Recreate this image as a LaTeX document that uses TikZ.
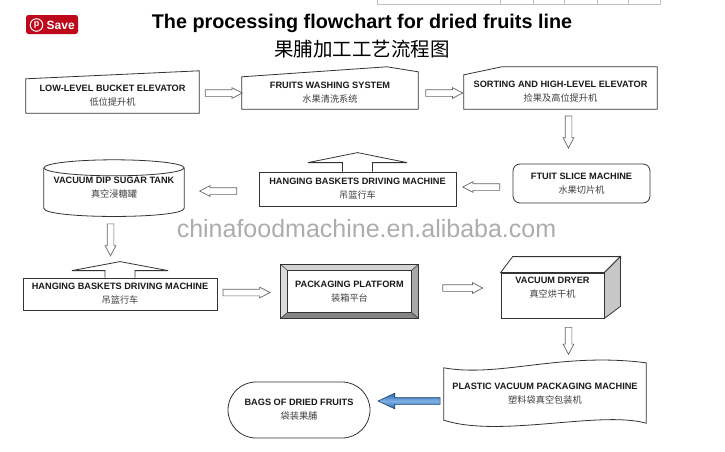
\documentclass[tikz,border=0pt]{standalone}
\usepackage{fontspec}
\setmainfont{Liberation Sans}
\newfontfamily\cjk{Noto Sans CJK SC}
\usepackage{tikz}
\usetikzlibrary{
  calc,
  positioning,
  shapes.arrows, % for the hollow block arrows
  shapes.misc, % for the rounded rectangle
}
\definecolor{pinred}{HTML}{BD081C}
\definecolor{boxline}{HTML}{333333}
\definecolor{hollowline}{HTML}{666666}
\definecolor{bluefill}{HTML}{2B66AD}
\definecolor{bluelight}{HTML}{7DB0E3}
\definecolor{blueedge}{HTML}{1B3F73}
\definecolor{bevellight}{HTML}{D2D2D2}
\definecolor{bevelmid}{HTML}{A8A8A8}
\definecolor{beveldark}{HTML}{858585}
\newcommand{\boxtext}[2]{\textbf{#1}\\{\cjk\color{black!75}#2}}

\begin{document}
\begin{tikzpicture}[x=1pt, y=-1pt,
    plain/.style={align=center, inner sep=1pt, text=black!90,
      font=\fontsize{9.2}{14}\selectfont},
    box/.style={plain, draw=boxline, line width=0.8pt, fill=white},
    edge/.style={draw=boxline, line width=0.8pt},
    hollow/.style={single arrow, draw=hollowline, line width=0.7pt, fill=white,
      inner xsep=0pt, inner ysep=3pt, minimum width=10pt, single arrow head extend=2pt,
      single arrow head indent=0pt, single arrow tip angle=55,
      sloped, allow upside down},
    bluearrow/.style={single arrow, draw=blueedge, line width=0.6pt,
      top color=bluefill, bottom color=bluefill, middle color=bluelight,
      inner xsep=0pt, inner ysep=3pt, minimum width=15pt, single arrow head extend=4.5pt,
      single arrow head indent=0pt, single arrow tip angle=50,
      sloped, allow upside down},
  ]
  \fill [white] (0,0) rectangle (725,451);
  \useasboundingbox (0,0) rectangle (725,451);

  % page header
  \draw [black!25, line width=0.6pt] (377,-2) -- (377,4) -- (660,4) -- (660,-2);
  \foreach \x in {500,533,564,597,628}
    \draw [black!25, line width=0.6pt] (\x,-2) -- (\x,4);
  \node [fill=pinred, rounded corners=2.5pt, minimum width=52pt, minimum height=19pt] (save) at (52,24.5) {};
  \node [circle, draw=white, line width=1pt, inner sep=0pt, minimum size=12.5pt, text=white,
    font=\bfseries\fontsize{9}{9}\selectfont] (pin) at (36.5,25) {p};
  \node [anchor=base west, inner sep=0pt, text=white, font=\bfseries\fontsize{12}{12}\selectfont] (savetext) at (46.5,29.3) {Save};
  \node [anchor=base, inner sep=0pt, font=\bfseries\fontsize{19.8}{22}\selectfont] (title) at (362,28)
    {The processing flowchart for dried fruits line};
  \node [below=7.8pt of title, inner sep=0pt, font=\cjk\fontsize{19.5}{22}\selectfont] (subtitle) {果脯加工工艺流程图};

  % first row
  \node [plain, minimum width=173pt, minimum height=34pt] (low) at (112.5,96)
    {\boxtext{LOW-LEVEL BUCKET ELEVATOR}{低位提升机}};
  \draw [edge] (low.south west) -- (low.north west) -- ([yshift=8pt]low.north east)
    -- (low.south east) -- cycle;
  \node [plain, minimum width=176pt, minimum height=32pt] (wash) at (330,93)
    {\boxtext{FRUITS WASHING SYSTEM}{水果清洗系统}};
  \draw [edge] (wash.south west) -- (wash.north west) -- ([xshift=145pt,yshift=10pt]wash.north west)
    -- ([yshift=5pt]wash.north east) -- (wash.south east) -- cycle;
  \node [plain, minimum width=193pt, minimum height=34pt] (sort) at (560.5,92)
    {\boxtext{SORTING AND HIGH-LEVEL ELEVATOR}{捡果及高位提升机}};
  \draw [edge] (sort.south west) -- (sort.north west) -- ([xshift=38pt,yshift=8pt]sort.north west)
    -- ([yshift=8pt]sort.north east) -- (sort.south east) -- cycle;

  % second row
  \node [box, rounded corners=7pt, minimum width=137pt, minimum height=39pt] (slice) at (581.5,183.5)
    {\boxtext{FTUIT SLICE MACHINE}{水果切片机}};
  \node [box, minimum width=197pt, minimum height=34pt] (hang1) at (357.5,189)
    {\boxtext{HANGING BASKETS DRIVING MACHINE}{吊篮行车}};
  \draw [edge] ([xshift=-15pt]hang1.north) -- ++(0,-9) -- ++(-34.5,0) -- ([yshift=19pt]hang1.north)
    -- ([xshift=49.5pt,yshift=9pt]hang1.north) -- ++(-34.5,0) -- ++(0,9);
  \node [plain, minimum width=140pt, minimum height=40pt] (tank) at (114,188)
    {\boxtext{VACUUM DIP SUGAR TANK}{真空浸糖罐}};
  \draw [edge] (tank.north west) -- (tank.south west) .. controls +(0,11) and +(0,11) .. (tank.south east)
    -- (tank.north east);
  \draw [edge] (tank.north) ellipse [x radius=70, y radius=8];

  % third row
  \node [box, minimum width=194pt, minimum height=32pt] (hang2) at (120,294)
    {\boxtext{HANGING BASKETS DRIVING MACHINE}{吊篮行车}};
  \draw [edge] ([xshift=-15pt]hang2.north) -- ++(0,-7) -- ++(-33,0) -- ([yshift=16pt]hang2.north)
    -- ([xshift=48pt,yshift=7pt]hang2.north) -- ++(-33,0) -- ++(0,7);
  \node [box, minimum width=137pt, minimum height=53pt] (pack) at (349.5,291.5)
    {\boxtext{PACKAGING PLATFORM}{装箱平台}};
  \coordinate (pnw) at ([xshift=7pt,yshift=-6pt]pack.north west);
  \coordinate (pne) at ([xshift=-7pt,yshift=-6pt]pack.north east);
  \coordinate (pse) at ([xshift=-7pt,yshift=6pt]pack.south east);
  \coordinate (psw) at ([xshift=7pt,yshift=6pt]pack.south west);
  \filldraw [fill=bevellight, draw=boxline, line width=0.4pt] (pack.north west) -- (pack.north east) -- (pne) -- (pnw) -- cycle;
  \filldraw [fill=bevellight!80, draw=boxline, line width=0.4pt] (pack.north west) -- (pnw) -- (psw) -- (pack.south west) -- cycle;
  \filldraw [fill=bevelmid, draw=boxline, line width=0.4pt] (pack.north east) -- (pack.south east) -- (pse) -- (pne) -- cycle;
  \filldraw [fill=beveldark, draw=boxline, line width=0.4pt] (pack.south west) -- (psw) -- (pse) -- (pack.south east) -- cycle;
  \draw [edge] (pnw) rectangle (pse);
  \draw [edge, line width=1pt] (pack.north west) rectangle (pack.south east);
  \node [box, minimum width=103pt, minimum height=45pt,
    label={[plain, yshift=7.5pt]center:\boxtext{VACUUM DRYER}{真空烘干机}}] (dryer) at (552.5,295.5) {};
  \filldraw [edge, fill=white] (dryer.north west) -- ([xshift=12pt,yshift=16pt]dryer.north west)
    -- ([xshift=16pt,yshift=16pt]dryer.north east) -- (dryer.north east) -- cycle;
  \filldraw [edge, fill=black!22] (dryer.north east) -- ([xshift=16pt,yshift=16pt]dryer.north east)
    -- ([xshift=16pt,yshift=12pt]dryer.south east) -- (dryer.south east) -- cycle;

  % last row
  \node [plain, minimum width=202pt, minimum height=52pt] (tape) at (545,394)
    {\boxtext{PLASTIC VACUUM PACKAGING MACHINE}{塑料袋真空包装机}};
  \draw [edge] (tape.north west) .. controls +(56,10) and +(-86,-11) .. ([yshift=5pt]tape.north east)
    -- ([yshift=-3pt]tape.south east) .. controls +(-46,-13) and +(56,18) .. (tape.south west) -- cycle;
  \node [box, rounded rectangle, minimum width=144pt, minimum height=56pt] (bags) at (299,410)
    {\boxtext{BAGS OF DRIED FRUITS}{袋装果脯}};

  % block arrows
  \path ([yshift=3pt]low.east) -- node [hollow, minimum height=37pt] {} ([yshift=3pt]low.east -| wash.west);
  \path (wash.east) -- node [hollow, minimum height=37pt] {} (wash.east -| sort.west);
  \path ([xshift=8pt]sort.south) -- node [hollow, minimum height=32pt, pos=0.36] {} ([xshift=8pt]sort.south |- slice.north);
  \path ([yshift=-3.5pt]slice.west) -- node [hollow, minimum height=37pt] {} ([yshift=-3.5pt]slice.west -| hang1.east);
  \path ([yshift=-2pt]hang1.west) -- node [hollow, minimum height=37pt] {} ([yshift=-2pt]hang1.west -| tank.east);
  \path ([xshift=-3.5pt]tank.south) -- node [hollow, minimum height=32pt, pos=0.41] {} ([xshift=-3.5pt]tank.south |- hang2.north);
  \path ([yshift=1.5pt]hang2.east) -- node [hollow, minimum height=47pt, pos=0.41] {} ([yshift=1.5pt]hang2.east -| pack.west);
  \path ([yshift=3.5pt]pack.east) -- node [hollow, minimum height=40pt] {} ([yshift=3.5pt]pack.east -| dryer.west);
  \path ([xshift=16pt]dryer.south) -- node [hollow, minimum height=27pt, pos=0.39] {} ([xshift=16pt]dryer.south |- tape.north);
  \path ([yshift=-7pt]tape.west) -- node [bluearrow, minimum height=62pt, pos=0.425] {} ([yshift=-7pt]tape.west -| bags.east);

  \node [anchor=base, inner sep=0pt, text=black!32, font=\fontsize{25}{25}\selectfont] (mark) at (366.5,237)
    {chinafoodmachine.en.alibaba.com};
\end{tikzpicture}
\end{document}
